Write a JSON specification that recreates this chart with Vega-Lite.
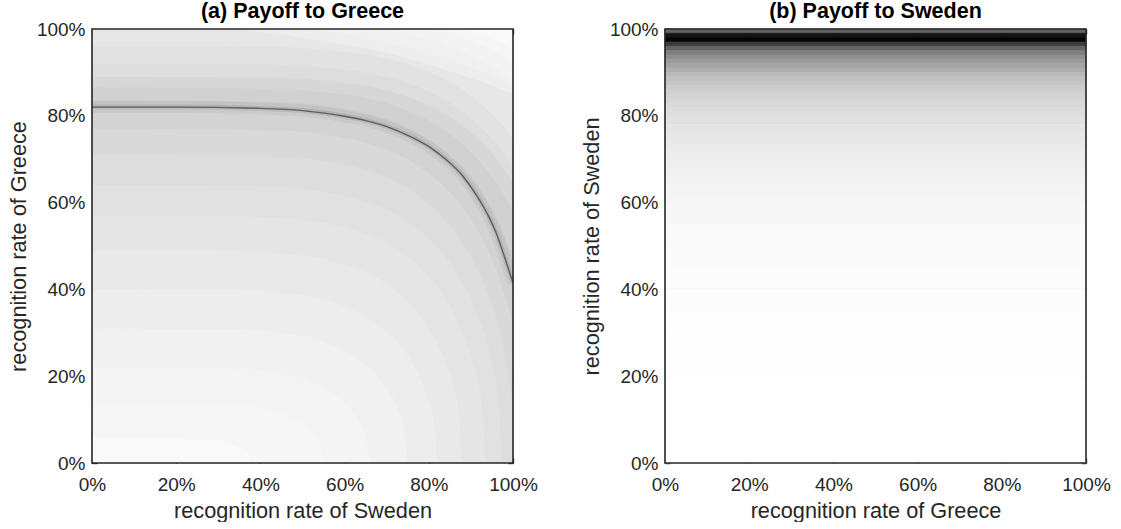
{
  "$schema": "https://vega.github.io/schema/vega-lite/v6.json",
  "background": "white",
  "padding": {"left": 8, "top": 0, "right": 0, "bottom": 0},
  "spacing": 43,
  "config": {
    "font": "Liberation Sans",
    "view": {"stroke": null},
    "axis": {
      "labelFont": "Liberation Sans", "labelFontSize": 19, "labelColor": "#262626", "labelFlush": false,
      "titleFont": "Liberation Sans", "titleFontSize": 21.7, "titleFontWeight": "normal", "titleColor": "#262626",
      "domain": false, "grid": false,
      "tickColor": "#262626", "tickSize": -5, "tickWidth": 1.4
    },
    "axisX": {"labelPadding": 17, "titlePadding": 6},
    "axisY": {"labelPadding": 12, "titlePadding": 6},
    "title": {"font": "Liberation Sans", "fontSize": 21.5, "fontWeight": "bold", "color": "#000000", "offset": -2}
  },
  "datasets": {
    "ridge": [
      {"sweden": 0, "greece": 82.0}, {"sweden": 20, "greece": 82.0}, {"sweden": 40, "greece": 81.7},
      {"sweden": 50, "greece": 81.2}, {"sweden": 60, "greece": 79.9}, {"sweden": 65, "greece": 78.9},
      {"sweden": 70, "greece": 77.5}, {"sweden": 75, "greece": 75.5}, {"sweden": 80, "greece": 72.9},
      {"sweden": 84, "greece": 70.0}, {"sweden": 88, "greece": 66.2}, {"sweden": 91, "greece": 62.2},
      {"sweden": 94, "greece": 57.2}, {"sweden": 96, "greece": 53.0}, {"sweden": 98, "greece": 47.4},
      {"sweden": 100, "greece": 41.5}
    ],
    "upperContours": [
      {"level":203,"sweden":0,"greece":82.0},{"level":203,"sweden":20,"greece":82.0},{"level":203,"sweden":40,"greece":81.7},{"level":203,"sweden":50,"greece":81.2},{"level":203,"sweden":60,"greece":79.9},{"level":203,"sweden":65,"greece":78.9},{"level":203,"sweden":70,"greece":77.5},{"level":203,"sweden":75,"greece":75.5},{"level":203,"sweden":80,"greece":72.9},{"level":203,"sweden":84,"greece":70.0},{"level":203,"sweden":88,"greece":66.2},{"level":203,"sweden":91,"greece":62.2},{"level":203,"sweden":94,"greece":57.2},{"level":203,"sweden":96,"greece":53.0},{"level":203,"sweden":98,"greece":47.4},{"level":203,"sweden":100,"greece":41.5},
      {"level":209,"sweden":0,"greece":83.5},{"level":209,"sweden":40,"greece":83.3},{"level":209,"sweden":55,"greece":82.4},{"level":209,"sweden":65,"greece":80.7},{"level":209,"sweden":75,"greece":77.2},{"level":209,"sweden":82,"greece":73.1},{"level":209,"sweden":88,"greece":67.8},{"level":209,"sweden":93,"greece":61.4},{"level":209,"sweden":97,"greece":54.4},{"level":209,"sweden":100,"greece":47.4},
      {"level":215,"sweden":0,"greece":86.5},{"level":215,"sweden":40,"greece":86.3},{"level":215,"sweden":55,"greece":85.5},{"level":215,"sweden":65,"greece":84.1},{"level":215,"sweden":75,"greece":81.2},{"level":215,"sweden":82,"greece":77.8},{"level":215,"sweden":88,"greece":73.5},{"level":215,"sweden":93,"greece":68.4},{"level":215,"sweden":97,"greece":63.1},{"level":215,"sweden":100,"greece":57.9},
      {"level":221,"sweden":0,"greece":89.0},{"level":221,"sweden":40,"greece":88.8},{"level":221,"sweden":55,"greece":88.1},{"level":221,"sweden":65,"greece":86.9},{"level":221,"sweden":75,"greece":84.4},{"level":221,"sweden":82,"greece":81.5},{"level":221,"sweden":88,"greece":77.7},{"level":221,"sweden":93,"greece":73.4},{"level":221,"sweden":97,"greece":68.9},{"level":221,"sweden":100,"greece":64.7},
      {"level":226,"sweden":0,"greece":92.0},{"level":226,"sweden":40,"greece":91.9},{"level":226,"sweden":55,"greece":91.2},{"level":226,"sweden":65,"greece":89.9},{"level":226,"sweden":75,"greece":87.5},{"level":226,"sweden":82,"greece":84.6},{"level":226,"sweden":88,"greece":80.9},{"level":226,"sweden":93,"greece":76.7},{"level":226,"sweden":97,"greece":72.3},{"level":226,"sweden":100,"greece":68.2},
      {"level":231,"sweden":0,"greece":96.0},{"level":231,"sweden":40,"greece":95.9},{"level":231,"sweden":55,"greece":95.2},{"level":231,"sweden":65,"greece":94.1},{"level":231,"sweden":75,"greece":91.9},{"level":231,"sweden":82,"greece":89.3},{"level":231,"sweden":88,"greece":86.0},{"level":231,"sweden":93,"greece":82.2},{"level":231,"sweden":97,"greece":78.4},{"level":231,"sweden":100,"greece":74.8},
      {"level":237,"sweden":35,"greece":100},{"level":237,"sweden":55,"greece":97.2},{"level":237,"sweden":70,"greece":94.5},{"level":237,"sweden":82,"greece":91.2},{"level":237,"sweden":92,"greece":88.0},{"level":237,"sweden":100,"greece":85.0},
      {"level":240,"sweden":52,"greece":100},{"level":240,"sweden":65,"greece":97.8},{"level":240,"sweden":78,"greece":94.8},{"level":240,"sweden":88,"greece":91.8},{"level":240,"sweden":96,"greece":88.8},{"level":240,"sweden":100,"greece":87.0},
      {"level":243,"sweden":70,"greece":100},{"level":243,"sweden":80,"greece":97.5},{"level":243,"sweden":90,"greece":93.8},{"level":243,"sweden":100,"greece":88.5},
      {"level":246,"sweden":80,"greece":100},{"level":246,"sweden":88,"greece":98.0},{"level":246,"sweden":95,"greece":95.2},{"level":246,"sweden":100,"greece":92.5},
      {"level":249,"sweden":88,"greece":100},{"level":249,"sweden":94,"greece":98.2},{"level":249,"sweden":100,"greece":95.5}
    ],
    "lowerContours": [
      {"level":211,"sweden":0,"greece":82.0},{"level":211,"sweden":20,"greece":82.0},{"level":211,"sweden":40,"greece":81.7},{"level":211,"sweden":50,"greece":81.2},{"level":211,"sweden":60,"greece":79.9},{"level":211,"sweden":65,"greece":78.9},{"level":211,"sweden":70,"greece":77.5},{"level":211,"sweden":75,"greece":75.5},{"level":211,"sweden":80,"greece":72.9},{"level":211,"sweden":84,"greece":70.0},{"level":211,"sweden":88,"greece":66.2},{"level":211,"sweden":91,"greece":62.2},{"level":211,"sweden":94,"greece":57.2},{"level":211,"sweden":96,"greece":53.0},{"level":211,"sweden":98,"greece":47.4},{"level":211,"sweden":100,"greece":41.5},
      {"level":217,"sweden":0,"greece":77.0},{"level":217,"sweden":41.4,"greece":76.7},{"level":217,"sweden":57.0,"greece":75.4},{"level":217,"sweden":67.3,"greece":73.1},{"level":217,"sweden":77.7,"greece":68.3},{"level":217,"sweden":85.0,"greece":62.3},{"level":217,"sweden":91.2,"greece":54.3},{"level":217,"sweden":96.3,"greece":43.7},{"level":217,"sweden":100,"greece":32.1},
      {"level":221,"sweden":0,"greece":71.0},{"level":221,"sweden":40.2,"greece":70.7},{"level":221,"sweden":55.3,"greece":69.6},{"level":221,"sweden":65.3,"greece":67.4},{"level":221,"sweden":75.4,"greece":63.0},{"level":221,"sweden":82.4,"greece":57.5},{"level":221,"sweden":88.4,"greece":50.0},{"level":221,"sweden":93.5,"greece":40.3},{"level":221,"sweden":97.5,"greece":27.6},{"level":221,"sweden":99.5,"greece":16.3},{"level":221,"sweden":100,"greece":11.6},
      {"level":225,"sweden":0,"greece":64.0},{"level":225,"sweden":39.0,"greece":63.8},{"level":225,"sweden":53.6,"greece":62.7},{"level":225,"sweden":63.4,"greece":60.7},{"level":225,"sweden":73.1,"greece":56.8},{"level":225,"sweden":80.0,"greece":51.8},{"level":225,"sweden":85.8,"greece":45.1},{"level":225,"sweden":90.7,"greece":36.4},{"level":225,"sweden":94.6,"greece":24.9},{"level":225,"sweden":96.5,"greece":14.7},{"level":225,"sweden":97.5,"greece":0},
      {"level":229,"sweden":0,"greece":57.0},{"level":229,"sweden":37.4,"greece":56.8},{"level":229,"sweden":51.4,"greece":55.8},{"level":229,"sweden":60.8,"greece":54.1},{"level":229,"sweden":70.1,"greece":50.6},{"level":229,"sweden":76.7,"greece":46.2},{"level":229,"sweden":82.3,"greece":40.2},{"level":229,"sweden":87.0,"greece":32.4},{"level":229,"sweden":90.7,"greece":22.1},{"level":229,"sweden":92.6,"greece":13.1},{"level":229,"sweden":93.5,"greece":0},
      {"level":233,"sweden":0,"greece":49.0},{"level":233,"sweden":35.2,"greece":48.8},{"level":233,"sweden":48.4,"greece":48.0},{"level":233,"sweden":57.2,"greece":46.5},{"level":233,"sweden":66.0,"greece":43.5},{"level":233,"sweden":72.2,"greece":39.7},{"level":233,"sweden":77.4,"greece":34.5},{"level":233,"sweden":81.8,"greece":27.8},{"level":233,"sweden":85.4,"greece":19.0},{"level":233,"sweden":87.1,"greece":11.2},{"level":233,"sweden":88.0,"greece":0},
      {"level":237,"sweden":0,"greece":40.0},{"level":237,"sweden":32.8,"greece":39.9},{"level":237,"sweden":45.1,"greece":39.2},{"level":237,"sweden":53.3,"greece":38.0},{"level":237,"sweden":61.5,"greece":35.5},{"level":237,"sweden":67.2,"greece":32.4},{"level":237,"sweden":72.2,"greece":28.2},{"level":237,"sweden":76.3,"greece":22.7},{"level":237,"sweden":79.5,"greece":15.5},{"level":237,"sweden":81.2,"greece":9.2},{"level":237,"sweden":82.0,"greece":0},
      {"level":241,"sweden":0,"greece":31.0},{"level":241,"sweden":30.0,"greece":30.9},{"level":241,"sweden":41.3,"greece":30.4},{"level":241,"sweden":48.8,"greece":29.4},{"level":241,"sweden":56.3,"greece":27.5},{"level":241,"sweden":61.5,"greece":25.1},{"level":241,"sweden":66.0,"greece":21.8},{"level":241,"sweden":69.8,"greece":17.6},{"level":241,"sweden":72.8,"greece":12.0},{"level":241,"sweden":74.3,"greece":7.1},{"level":241,"sweden":75.0,"greece":0},
      {"level":244,"sweden":0,"greece":22.0},{"level":244,"sweden":26.4,"greece":21.9},{"level":244,"sweden":36.3,"greece":21.6},{"level":244,"sweden":42.9,"greece":20.9},{"level":244,"sweden":49.5,"greece":19.5},{"level":244,"sweden":54.1,"greece":17.8},{"level":244,"sweden":58.1,"greece":15.5},{"level":244,"sweden":61.4,"greece":12.5},{"level":244,"sweden":64.0,"greece":8.5},{"level":244,"sweden":65.3,"greece":5.0},{"level":244,"sweden":66.0,"greece":0},
      {"level":246,"sweden":0,"greece":14.0},{"level":246,"sweden":22.0,"greece":13.9},{"level":246,"sweden":30.3,"greece":13.7},{"level":246,"sweden":35.8,"greece":13.3},{"level":246,"sweden":41.3,"greece":12.4},{"level":246,"sweden":45.1,"greece":11.3},{"level":246,"sweden":48.4,"greece":9.9},{"level":246,"sweden":51.2,"greece":8.0},{"level":246,"sweden":53.4,"greece":5.4},{"level":246,"sweden":54.5,"greece":3.2},{"level":246,"sweden":55.0,"greece":0},
      {"level":249,"sweden":0,"greece":6.0},{"level":249,"sweden":15.2,"greece":6.0},{"level":249,"sweden":20.9,"greece":5.9},{"level":249,"sweden":24.7,"greece":5.7},{"level":249,"sweden":28.5,"greece":5.3},{"level":249,"sweden":31.2,"greece":4.9},{"level":249,"sweden":33.4,"greece":4.2},{"level":249,"sweden":35.3,"greece":3.4},{"level":249,"sweden":36.9,"greece":2.3},{"level":249,"sweden":37.6,"greece":1.4},{"level":249,"sweden":38.0,"greece":0}
    ],
    "swedenBands": [
      {"lo": 99, "hi": 100, "level": 100}, {"lo": 98, "hi": 99, "level": 20}, {"lo": 97, "hi": 98, "level": 3},
      {"lo": 96, "hi": 97, "level": 60}, {"lo": 95, "hi": 96, "level": 100}, {"lo": 94, "hi": 95, "level": 126},
      {"lo": 93, "hi": 94, "level": 143}, {"lo": 92, "hi": 93, "level": 155}, {"lo": 91, "hi": 92, "level": 165},
      {"lo": 90, "hi": 91, "level": 175}, {"lo": 89, "hi": 90, "level": 185}, {"lo": 88, "hi": 89, "level": 192},
      {"lo": 87, "hi": 88, "level": 198}, {"lo": 86, "hi": 87, "level": 203}, {"lo": 85, "hi": 86, "level": 207},
      {"lo": 84, "hi": 85, "level": 211}, {"lo": 83, "hi": 84, "level": 214}, {"lo": 82, "hi": 83, "level": 217},
      {"lo": 81, "hi": 82, "level": 220}, {"lo": 80, "hi": 81, "level": 222},
      {"lo": 78, "hi": 80, "level": 225}, {"lo": 76, "hi": 78, "level": 228}, {"lo": 74, "hi": 76, "level": 231},
      {"lo": 72, "hi": 74, "level": 234}, {"lo": 70, "hi": 72, "level": 236}, {"lo": 68, "hi": 70, "level": 238},
      {"lo": 66, "hi": 68, "level": 240}, {"lo": 64, "hi": 66, "level": 242}, {"lo": 62, "hi": 64, "level": 244},
      {"lo": 60, "hi": 62, "level": 245},
      {"lo": 55, "hi": 60, "level": 247}, {"lo": 50, "hi": 55, "level": 249}, {"lo": 45, "hi": 50, "level": 250},
      {"lo": 40, "hi": 45, "level": 251}, {"lo": 35, "hi": 40, "level": 252}, {"lo": 30, "hi": 35, "level": 253},
      {"lo": 25, "hi": 30, "level": 254}, {"lo": 20, "hi": 25, "level": 254}, {"lo": 15, "hi": 20, "level": 255},
      {"lo": 10, "hi": 15, "level": 255}, {"lo": 5, "hi": 10, "level": 255}, {"lo": 0, "hi": 5, "level": 255}
    ]
  },
  "hconcat": [
    {
      "width": 421,
      "height": 434,
      "title": "(a) Payoff to Greece",
      "layer": [
        {
          "data": {"name": "upperContours"},
          "mark": {"type": "area", "interpolate": "monotone", "clip": true},
          "encoding": {
            "x": {"field": "sweden", "type": "quantitative",
                  "scale": {"domain": [0, 100], "nice": false, "zero": false},
                  "axis": {"orient": "bottom", "title": "recognition rate of Sweden", "values": [0, 20, 40, 60, 80, 100], "labelExpr": "datum.value + '%'"}},
            "y": {"field": "greece", "type": "quantitative",
                  "scale": {"domain": [0, 100], "nice": false, "zero": false},
                  "axis": {"orient": "left", "title": "recognition rate of Greece", "values": [0, 20, 40, 60, 80, 100], "labelExpr": "datum.value + '%'"}},
            "y2": {"datum": 100},
            "color": {"field": "level", "type": "quantitative", "legend": null,
                      "scale": {"domain": [0, 255], "range": ["#000000", "#ffffff"], "interpolate": "rgb"}},
            "detail": {"field": "level", "type": "nominal"}
          }
        },
        {
          "data": {"name": "lowerContours"},
          "mark": {"type": "area", "interpolate": "monotone", "clip": true},
          "encoding": {
            "x": {"field": "sweden", "type": "quantitative", "axis": null},
            "y": {"field": "greece", "type": "quantitative", "axis": null},
            "y2": {"datum": 0},
            "color": {"field": "level", "type": "quantitative", "legend": null},
            "detail": {"field": "level", "type": "nominal"}
          }
        },
        {
          "data": {"name": "ridge"},
          "mark": {"type": "line", "interpolate": "monotone", "color": "#000000", "strokeWidth": 12, "opacity": 0.04, "clip": true},
          "encoding": {
            "x": {"field": "sweden", "type": "quantitative", "axis": null},
            "y": {"field": "greece", "type": "quantitative", "axis": null}
          }
        },
        {
          "data": {"name": "ridge"},
          "mark": {"type": "line", "interpolate": "monotone", "color": "#000000", "strokeWidth": 5, "opacity": 0.08, "clip": true},
          "encoding": {
            "x": {"field": "sweden", "type": "quantitative", "axis": null},
            "y": {"field": "greece", "type": "quantitative", "axis": null}
          }
        },
        {
          "data": {"name": "ridge"},
          "mark": {"type": "line", "interpolate": "monotone", "color": "#000000", "strokeWidth": 1.4, "opacity": 0.5, "clip": true},
          "encoding": {
            "x": {"field": "sweden", "type": "quantitative", "axis": null},
            "y": {"field": "greece", "type": "quantitative", "axis": null}
          }
        },
        {
          "data": {"values": [{}]},
          "mark": {"type": "rect", "filled": false, "stroke": "#262626", "strokeWidth": 1.6},
          "encoding": {
            "x": {"datum": 0, "type": "quantitative", "axis": {"orient": "top", "labels": false, "title": null, "values": [0, 20, 40, 60, 80, 100]}},
            "x2": {"datum": 100},
            "y": {"datum": 0, "type": "quantitative", "axis": {"orient": "right", "labels": false, "title": null, "values": [0, 20, 40, 60, 80, 100]}},
            "y2": {"datum": 100}
          }
        }
      ],
      "resolve": {"axis": {"x": "independent", "y": "independent"}}
    },
    {
      "width": 421,
      "height": 434,
      "title": "(b) Payoff to Sweden",
      "layer": [
        {
          "data": {"name": "swedenBands"},
          "mark": {"type": "rect", "strokeWidth": 0.8},
          "encoding": {
            "x": {"datum": 0, "type": "quantitative",
                  "scale": {"domain": [0, 100], "nice": false, "zero": false},
                  "axis": {"orient": "bottom", "title": "recognition rate of Greece", "values": [0, 20, 40, 60, 80, 100], "labelExpr": "datum.value + '%'"}},
            "x2": {"datum": 100},
            "y": {"field": "lo", "type": "quantitative",
                  "scale": {"domain": [0, 100], "nice": false, "zero": false},
                  "axis": {"orient": "left", "title": "recognition rate of Sweden", "values": [0, 20, 40, 60, 80, 100], "labelExpr": "datum.value + '%'"}},
            "y2": {"field": "hi"},
            "color": {"field": "level", "type": "quantitative", "legend": null,
                      "scale": {"domain": [0, 255], "range": ["#000000", "#ffffff"], "interpolate": "rgb"}},
            "stroke": {"field": "level", "type": "quantitative", "legend": null,
                       "scale": {"domain": [0, 255], "range": ["#000000", "#ffffff"], "interpolate": "rgb"}}
          }
        },
        {
          "data": {"values": [{}]},
          "mark": {"type": "rect", "filled": false, "stroke": "#262626", "strokeWidth": 1.6},
          "encoding": {
            "x": {"datum": 0, "type": "quantitative", "axis": {"orient": "top", "labels": false, "title": null, "values": [0, 20, 40, 60, 80, 100]}},
            "x2": {"datum": 100},
            "y": {"datum": 0, "type": "quantitative", "axis": {"orient": "right", "labels": false, "title": null, "values": [0, 20, 40, 60, 80, 100]}},
            "y2": {"datum": 100}
          }
        }
      ],
      "resolve": {"axis": {"x": "independent", "y": "independent"}}
    }
  ]
}
